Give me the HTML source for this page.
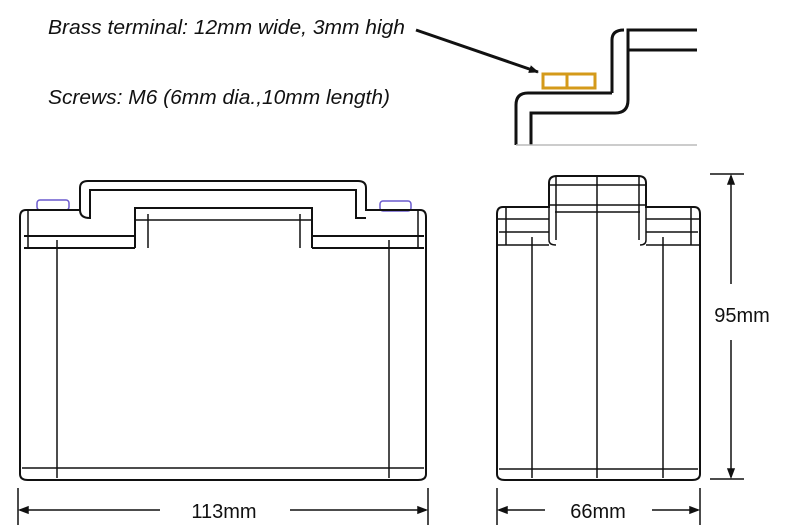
<!DOCTYPE html>
<html><head><style>
body{margin:0;background:#fff;width:800px;height:530px;overflow:hidden}
svg{display:block}
text{font-family:"Liberation Sans",sans-serif;fill:#111}
</style></head><body>
<svg width="800" height="530" viewBox="0 0 800 530" xmlns="http://www.w3.org/2000/svg">
<defs><marker id="ah" markerWidth="10" markerHeight="8" refX="9" refY="4" orient="auto" markerUnits="userSpaceOnUse"><path d="M0,0 L10,4 L0,8z" fill="#111"/></marker></defs>
<g font-style="italic" font-size="20.5">
<text x="48" y="34" textLength="357" lengthAdjust="spacingAndGlyphs">Brass terminal: 12mm wide, 3mm high</text>
<text x="48" y="104" textLength="342" lengthAdjust="spacingAndGlyphs">Screws: M6 (6mm dia.,10mm length)</text>
</g>
<!-- inset -->
<line x1="416" y1="30" x2="538" y2="72" stroke="#111" stroke-width="3" marker-end="url(#ah)"/>
<rect x="543" y="74" width="52" height="14" fill="none" stroke="#d49a1a" stroke-width="3"/>
<line x1="567" y1="74" x2="567" y2="88" stroke="#d49a1a" stroke-width="3"/>
<g fill="none" stroke="#111" stroke-width="3">
<path d="M516,145 V105 Q516,93 528,93 H612"/>
<path d="M531,145 V113 H615 Q628,113 628,100 V30 Q628,30 640,30 H697"/>
<path d="M612,93 V40 Q612,30 624,30"/>
<line x1="628" y1="50" x2="697" y2="50"/>
</g>
<line x1="516" y1="145" x2="697" y2="145" stroke="#bbb" stroke-width="1.5"/>
<!-- left battery -->
<g fill="none" stroke="#111" stroke-width="2">
<rect x="37" y="200" width="32" height="10" rx="3" stroke="#6a5acd" stroke-width="1.5"/>
<rect x="380" y="201" width="31" height="10" rx="3" stroke="#6a5acd" stroke-width="1.5"/>
<path d="M26,210 H80 V188 Q80,181 88,181 H358 Q366,181 366,188 V210 H420 Q426,210 426,217 V474 Q426,480 418,480 H28 Q20,480 20,474 V217 Q20,210 26,210Z"/>
<path d="M80,210 Q80,218 90,218 V190 H356 V218 H366"/>
<path d="M135,248 V208 H312 V248"/>
<path d="M148,214 V248 M300,214 V248" stroke-width="1.5"/>
<line x1="135" y1="220" x2="312" y2="220" stroke-width="1.5"/>
<line x1="24" y1="236" x2="135" y2="236"/><line x1="312" y1="236" x2="424" y2="236"/>
<line x1="24" y1="248" x2="135" y2="248"/><line x1="312" y1="248" x2="424" y2="248"/>
<line x1="28" y1="210" x2="28" y2="248" stroke-width="1.5"/><line x1="418" y1="210" x2="418" y2="248" stroke-width="1.5"/>
<line x1="57" y1="240" x2="57" y2="478" stroke-width="1.5"/>
<line x1="389" y1="240" x2="389" y2="478" stroke-width="1.5"/>
<line x1="22" y1="468" x2="424" y2="468" stroke-width="1.5"/>
</g>
<!-- right battery -->
<g fill="none" stroke="#111" stroke-width="2">
<path d="M503,207 H549 V183 Q549,176 557,176 H638 Q646,176 646,183 V207 H694 Q700,207 700,214 V474 Q700,480 692,480 H505 Q497,480 497,474 V214 Q497,207 503,207Z"/>
<line x1="549" y1="185" x2="646" y2="185" stroke-width="1.5"/>
<line x1="549" y1="205" x2="646" y2="205" stroke-width="1.5"/>
<line x1="555" y1="212" x2="640" y2="212" stroke-width="1.5"/>
<path d="M549,207 V240 Q549,245 556,245 M646,207 V240 Q646,245 640,245" stroke-width="1.5"/>
<path d="M556,176 V240 M639,176 V240" stroke-width="1.5"/>
<line x1="497" y1="219" x2="549" y2="219" stroke-width="1.5"/><line x1="646" y1="219" x2="700" y2="219" stroke-width="1.5"/>
<line x1="499" y1="232" x2="549" y2="232" stroke-width="1.5"/><line x1="646" y1="232" x2="698" y2="232" stroke-width="1.5"/>
<line x1="497" y1="245" x2="549" y2="245" stroke-width="1.5"/><line x1="646" y1="245" x2="700" y2="245" stroke-width="1.5"/>
<line x1="506" y1="207" x2="506" y2="245" stroke-width="1.5"/><line x1="691" y1="207" x2="691" y2="245" stroke-width="1.5"/>
<line x1="532" y1="237" x2="532" y2="478" stroke-width="1.5"/>
<line x1="597" y1="176" x2="597" y2="478" stroke-width="1.5"/>
<line x1="663" y1="237" x2="663" y2="478" stroke-width="1.5"/>
<line x1="499" y1="469" x2="698" y2="469" stroke-width="1.5"/>
</g>
<!-- dimensions -->
<g stroke="#111" stroke-width="1.5" fill="none">
<line x1="18" y1="488" x2="18" y2="525"/><line x1="428" y1="488" x2="428" y2="525"/>
<path d="M20,510 L28,507 L28,513z" fill="#111"/><path d="M426,510 L418,507 L418,513z" fill="#111"/>
<line x1="20" y1="510" x2="160" y2="510"/><line x1="290" y1="510" x2="426" y2="510"/>
<line x1="497" y1="488" x2="497" y2="525"/><line x1="700" y1="488" x2="700" y2="525"/>
<path d="M499,510 L507,507 L507,513z" fill="#111"/><path d="M698,510 L690,507 L690,513z" fill="#111"/>
<line x1="499" y1="510" x2="545" y2="510"/><line x1="652" y1="510" x2="698" y2="510"/>
<line x1="710" y1="174" x2="744" y2="174"/><line x1="710" y1="479" x2="744" y2="479"/>
<line x1="731" y1="176" x2="731" y2="284"/><line x1="731" y1="340" x2="731" y2="477"/>
<path d="M731,176 L728,184 L734,184z" fill="#111"/><path d="M731,477 L728,469 L734,469z" fill="#111"/>
</g>
<g font-size="20">
<text x="224" y="518" text-anchor="middle">113mm</text>
<text x="598" y="518" text-anchor="middle">66mm</text>
<text x="742" y="322" text-anchor="middle">95mm</text>
</g>
</svg>
</body></html>
